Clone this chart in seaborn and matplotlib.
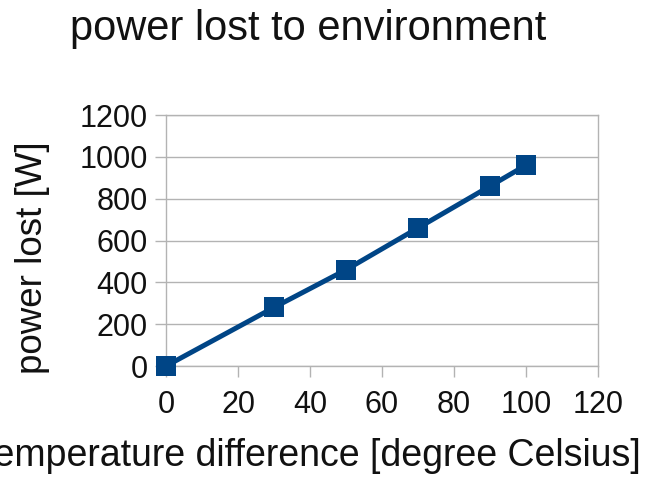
import matplotlib
matplotlib.use("Agg")
import pandas as pd
import seaborn as sns
import matplotlib.pyplot as plt

# data
temp_diff = [0, 30, 50, 70, 90, 100]
power_lost = [0, 280, 460, 660, 860, 960]
x_ticks = [0, 20, 40, 60, 80, 100, 120]
y_ticks = [0, 200, 400, 600, 800, 1000, 1200]

df = pd.DataFrame({"temp": temp_diff, "power": power_lost})

sns.set_theme(style="whitegrid")
plt.rcParams["font.family"] = ["Liberation Sans", "DejaVu Sans"]

grey = "#b3b3b3"
blue = "#004586"
ink = "#111111"

fig = plt.figure(figsize=(6.51, 4.83), dpi=100)
ax = fig.add_axes([0.255, 0.2422, 0.6636, 0.5197])

sns.lineplot(data=df, x="temp", y="power", ax=ax, color=blue, linewidth=3.6,
             marker="s", markersize=14, markeredgewidth=0, clip_on=False, zorder=5)

ax.set_xlim(0, 120)
ax.set_ylim(0, 1200)
ax.set_xticks(x_ticks)
ax.set_yticks(y_ticks)
ax.grid(axis="y", color=grey, linewidth=1)
ax.grid(axis="x", visible=False)
for s in ax.spines.values():
    s.set_color(grey)
    s.set_linewidth(1)
ax.tick_params(axis="both", which="major", length=8, width=1, color=grey,
               direction="out", labelsize=22, labelcolor=ink)
ax.tick_params(axis="x", bottom=True, pad=9)
ax.tick_params(axis="y", left=True, pad=5)

ax.set_xlabel("temperature difference [degree Celsius]", fontsize=27, color=ink,
              ha="right")
ax.xaxis.set_label_coords((641 - 166) / 432, -0.285)
ax.set_ylabel("power lost [W]", fontsize=26.5, color=ink)
ax.yaxis.set_label_coords(-0.268, 0.43)

fig.text(0.473, 0.982, "power lost to environment", fontsize=30, color=ink,
         ha="center", va="top")

fig.savefig("out.png", dpi=100)
